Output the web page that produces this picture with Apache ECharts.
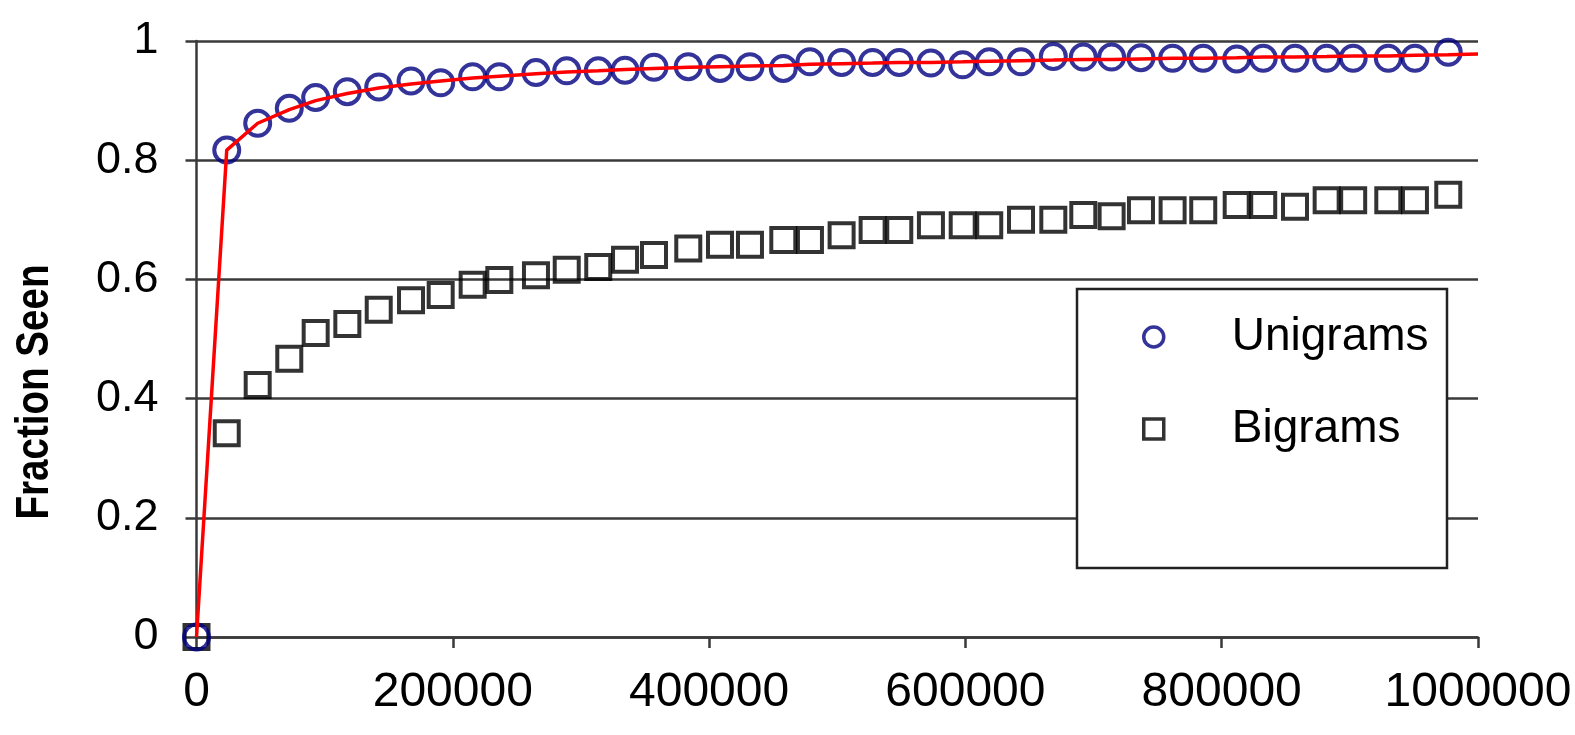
<!DOCTYPE html>
<html>
<head>
<meta charset="utf-8">
<script src="https://cdn.jsdelivr.net/npm/echarts@6/dist/echarts.min.js"></script>
<style>
html,body{margin:0;padding:0;background:#fff;}
#c{width:1575px;height:735px;}
</style>
</head>
<body>
<div id="c"></div>
<script>
// Corpus size (x) for each measurement
const xValues = [0, 23600, 47750, 72400, 93000, 117700, 142200, 167400, 190550, 215500, 236300,
  264900, 288900, 313500, 334400, 357000, 383750, 408500, 431900, 457900, 478700,
  503400, 527600, 548400, 573100, 597900, 618600, 643400, 668600, 692000, 714100,
  737000, 761700, 785600, 811700, 832400, 857200, 881900, 902600, 930000, 950800, 976800];

const unigrams = [0, 0.817, 0.862, 0.887, 0.905, 0.915, 0.923, 0.933, 0.930, 0.940, 0.940,
  0.947, 0.950, 0.950, 0.951, 0.956, 0.957, 0.954, 0.957, 0.954, 0.965,
  0.964, 0.964, 0.964, 0.963, 0.960, 0.965, 0.965, 0.974, 0.973, 0.973,
  0.972, 0.971, 0.971, 0.970, 0.971, 0.971, 0.971, 0.971, 0.971, 0.971, 0.981];

const bigrams = [0, 0.342, 0.423, 0.467, 0.510, 0.525, 0.549, 0.565, 0.574, 0.591, 0.599,
  0.607, 0.616, 0.621, 0.633, 0.641, 0.652, 0.658, 0.658, 0.666, 0.666,
  0.674, 0.683, 0.683, 0.691, 0.691, 0.691, 0.700, 0.700, 0.708, 0.706,
  0.716, 0.716, 0.716, 0.725, 0.725, 0.722, 0.733, 0.733, 0.733, 0.733, 0.742];

// Red fitted curve through the unigram points, extending to the right edge
const fitX = xValues.concat([1000000]);
const fitY = [0, 0.817, 0.862, 0.885, 0.900, 0.912, 0.921, 0.928, 0.933, 0.938, 0.941,
  0.945, 0.948, 0.950, 0.952, 0.954, 0.956, 0.957, 0.958, 0.959, 0.961,
  0.962, 0.963, 0.964, 0.964, 0.965, 0.966, 0.967, 0.968, 0.969, 0.969,
  0.970, 0.971, 0.971, 0.972, 0.973, 0.973, 0.974, 0.975, 0.975, 0.976, 0.977, 0.978];

const xTicks = [0, 200000, 400000, 600000, 800000, 1000000];
const yTicks = [0, 0.2, 0.4, 0.6, 0.8, 1];
const seriesNames = ['Unigrams', 'Bigrams'];
const yTitle = 'Fraction Seen';

const FONT = "'Liberation Sans', Arial, sans-serif";
const AXIS = '#3a3a3a';

const chart = echarts.init(document.getElementById('c'), null, {renderer: 'canvas'});
chart.setOption({
  animation: false,
  backgroundColor: '#ffffff',
  grid: {left: 196.5, right: 97, top: 41, bottom: 98, containLabel: false, outerBoundsMode: 'none'},
  xAxis: {
    type: 'value', min: xTicks[0], max: xTicks[xTicks.length - 1], interval: 200000,
    axisLine: {show: true, onZero: false, lineStyle: {color: AXIS, width: 2.5}},
    axisTick: {show: true, length: 11, lineStyle: {color: AXIS, width: 2.5}},
    splitLine: {show: false},
    axisLabel: {fontFamily: FONT, fontSize: 48, color: '#000', margin: 32,
      formatter: v => String(v)}
  },
  yAxis: {
    type: 'value', min: yTicks[0], max: yTicks[yTicks.length - 1], interval: 0.2,
    axisLine: {show: true, lineStyle: {color: AXIS, width: 2.5}},
    axisTick: {show: true, length: 11, lineStyle: {color: AXIS, width: 2.5}},
    splitLine: {show: true, lineStyle: {color: AXIS, width: 2.5}},
    axisLabel: {fontFamily: FONT, fontSize: 45, color: '#000', margin: 38,
      formatter: v => (v === 0 || v === 1) ? String(v) : v.toFixed(1)}
  },
  legend: {
    orient: 'vertical', left: 1142, top: 311, padding: 0,
    itemWidth: 20, itemHeight: 20, itemGap: 40, z: 10,
    data: [
      {name: seriesNames[0], icon: 'circle', itemStyle: {color: 'rgba(255,255,255,0)', borderColor: '#000080', borderWidth: 3.5}},
      {name: seriesNames[1], icon: 'rect', itemStyle: {color: 'rgba(255,255,255,0)', borderColor: '#000', borderWidth: 3.5}}
    ],
    textStyle: {fontFamily: FONT, fontSize: 46, lineHeight: 52, color: '#000', padding: [0, 0, 0, 63]}
  },
  graphic: [
    {type: 'rect', z: 3, shape: {x: 1077, y: 289, width: 370, height: 279},
      style: {fill: '#fff', stroke: '#222', lineWidth: 2.5}},
    {type: 'text', z: 3, x: 35, y: 392, rotation: Math.PI / 2, scaleX: 0.82,
      style: {text: yTitle, font: "bold 47px " + FONT, fill: '#000', align: 'center', verticalAlign: 'middle'}}
  ],
  series: [
    {
      name: seriesNames[1], type: 'scatter', symbol: 'rect', symbolSize: 24, z: 2,
      itemStyle: {color: 'rgba(255,255,255,0)', borderColor: '#000', borderWidth: 4},
      data: xValues.map((x, i) => [x, bigrams[i]])
    },
    {
      name: seriesNames[0], type: 'scatter', symbol: 'circle', symbolSize: 25, z: 3,
      itemStyle: {color: 'rgba(255,255,255,0)', borderColor: '#000080', borderWidth: 4},
      data: xValues.map((x, i) => [x, unigrams[i]])
    },
    {
      name: 'fit', type: 'line', showSymbol: false, symbol: 'none', z: 4,
      lineStyle: {color: '#ff0000', width: 3.5},
      data: fitX.map((x, i) => [x, fitY[i]])
    }
  ]
});
</script>
</body>
</html>
